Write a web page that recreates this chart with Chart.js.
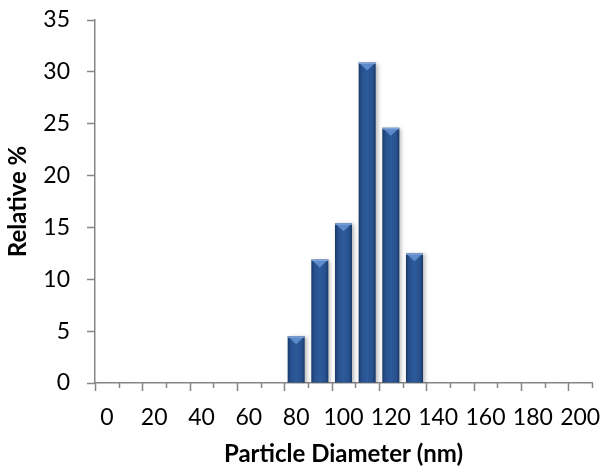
<!DOCTYPE html>
<html>
<head>
<meta charset="utf-8">
<script src="https://cdn.jsdelivr.net/npm/chart.js@4.4.0/dist/chart.umd.min.js"></script>
<style>
  html, body { margin: 0; padding: 0; background: #fff; }
  #wrap { width: 606px; height: 469px; }
</style>
</head>
<body>
<div id="wrap"><canvas id="sizeChart"></canvas></div>
<script>
const diameters = [0, 10, 20, 30, 40, 50, 60, 70, 80, 90, 100, 110, 120, 130, 140, 150, 160, 170, 180, 190, 200];
const relative = [null, null, null, null, null, null, null, null, 4.5, 11.9, 15.4, 30.9, 24.6, 12.5, null, null, null, null, null, null, null];
const yTicks = [0, 5, 10, 15, 20, 25, 30, 35];

const axisGray = "#868686";
const barPct = 0.72;

// horizontal gradient across each bar gives the rounded look
function barFill(ctx) {
  const chart = ctx.chart;
  if (!chart.chartArea || !chart.scales.x) return "#24508f";
  const xs = chart.scales.x;
  const cw = xs.getPixelForValue(1) - xs.getPixelForValue(0);
  const cx = xs.getPixelForValue(ctx.dataIndex);
  const half = cw * barPct / 2;
  const g = chart.ctx.createLinearGradient(cx - half, 0, cx + half, 0);
  g.addColorStop(0, "#1a3866");
  g.addColorStop(0.18, "#27518e");
  g.addColorStop(0.5, "#2d5a9a");
  g.addColorStop(0.82, "#27518e");
  g.addColorStop(1, "#1a3866");
  return g;
}

const barDecor = {
  id: "barDecor",
  beforeDatasetsDraw(chart) {
    const c = chart.ctx;
    c.save();
    c.shadowColor = "rgba(0,0,0,0.28)";
    c.shadowBlur = 4;
    c.shadowOffsetX = 2;
    c.shadowOffsetY = 1;
  },
  afterDatasetsDraw(chart) {
    const c = chart.ctx;
    c.restore();
    const meta = chart.getDatasetMeta(0);
    c.save();
    meta.data.forEach((el, i) => {
      if (relative[i] == null) return;
      const w = el.width;
      const l = el.x - w / 2, r = el.x + w / 2;
      c.fillStyle = "#5d8acb";
      c.beginPath();
      c.moveTo(l + 1, el.y + 1);
      c.lineTo(r - 1, el.y + 1);
      c.lineTo(el.x, el.y + 8);
      c.closePath();
      c.fill();
      c.fillStyle = "#7fa3d8";
      c.fillRect(l, el.y, w, 1.5);
    });
    c.restore();
  },
  afterDraw(chart) {
    // tick marks between categories, long every second one
    const xs = chart.scales.x;
    const cw = xs.getPixelForValue(1) - xs.getPixelForValue(0);
    const start = xs.getPixelForValue(0) - cw / 2;
    const c = chart.ctx;
    c.save();
    c.strokeStyle = axisGray;
    c.lineWidth = 1.5;
    for (let i = 0; i <= diameters.length; i++) {
      const x = Math.round(start + i * cw) + 0.5;
      const len = i % 2 === 0 ? 8 : 5;
      c.beginPath();
      c.moveTo(x, xs.top);
      c.lineTo(x, xs.top + len);
      c.stroke();
    }
    c.restore();
  }
};

const ctxSize = document.getElementById("sizeChart").getContext("2d");
const sizeChart = new Chart(ctxSize, {
  type: "bar",
  data: {
    labels: diameters,
    datasets: [
      {
        label: "Relative %",
        data: relative,
        backgroundColor: barFill,
        borderWidth: 0,
        barPercentage: barPct,
        categoryPercentage: 1,
      },
    ],
  },
  options: {
    responsive: true,
    maintainAspectRatio: false,
    animation: false,
    devicePixelRatio: 1,
    layout: {
      padding: { top: 20, right: 14, left: 0, bottom: 0 },
    },
    plugins: {
      legend: { display: false },
      tooltip: { enabled: false },
    },
    scales: {
      x: {
        afterFit(scale) {
          scale.height = 86;
          scale.paddingLeft = 0;
          scale.paddingRight = 0;
        },
        grid: { display: false, drawTicks: false },
        border: { display: true, color: axisGray, width: 1.5 },
        ticks: {
          autoSkip: false,
          maxRotation: 0,
          padding: 21,
          color: "#000",
          font: { family: "Lato", size: 23 },
          callback: (v, i) => (i % 2 === 0 ? diameters[i] : ""),
        },
        title: {
          display: true,
          text: "Particle Diameter (nm)",
          color: "#000",
          font: { family: "Lato", size: 24, weight: "bold" },
          padding: { top: 10, bottom: 0 },
        },
      },
      y: {
        min: 0,
        max: 35,
        afterFit(scale) {
          scale.width = 95;
          scale.paddingTop = 0;
          scale.paddingBottom = 0;
        },
        afterBuildTicks(scale) { scale.ticks = yTicks.map((v) => ({ value: v })); },
        grid: { drawOnChartArea: false, drawTicks: true, tickLength: 8, tickColor: axisGray, tickWidth: 1.5 },
        border: { display: true, color: axisGray, width: 1.5 },
        ticks: {
          padding: 17,
          color: "#000",
          font: { family: "Lato", size: 23 },
        },
        title: {
          display: true,
          text: "Relative %",
          color: "#000",
          font: { family: "Lato", size: 24, weight: "bold" },
          padding: { top: 4, bottom: 0 },
        },
      },
    },
  },
  plugins: [barDecor],
});
</script>
</body>
</html>
